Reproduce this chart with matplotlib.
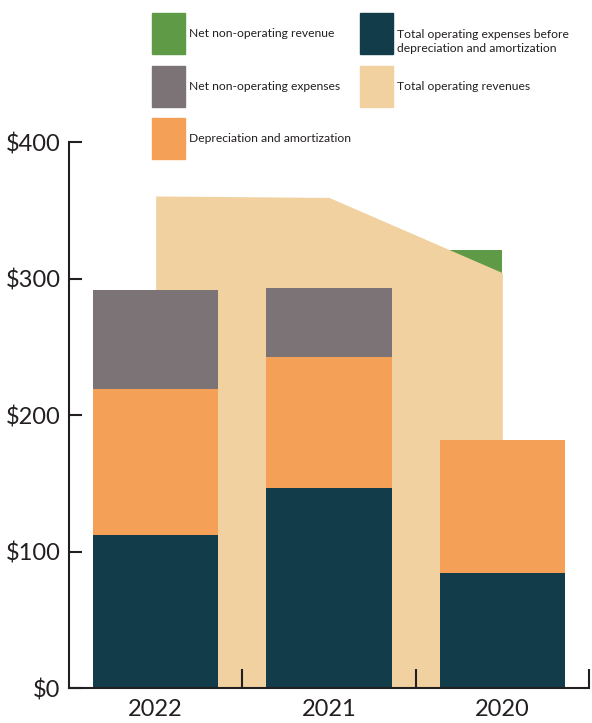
import matplotlib
matplotlib.use("Agg")
import matplotlib.pyplot as plt
import matplotlib.patches as mpatches
import numpy as np

# data (in $ millions)
years            = ["2022", "2021", "2020"]
opex_before_da   = [112.2, 147.1, 84.6]
depr_amort       = [107.3, 95.9, 97.1]
net_nonop_exp    = [72.5, 50.4, 0.0]
total_op_rev     = [360.7, 359.6, 304.5]
net_nonop_rev    = [0.0, 0.0, 16.6]
y_ticks          = [0, 100, 200, 300, 400]
y_labels         = ["$0", "$100", "$200", "$300", "$400"]

GREEN  = "#5f9b47"
TEAL   = "#123c4a"
GRAY   = "#7c7377"
BEIGE  = "#f0d19f"
ORANGE = "#f4a057"
TEXT   = "#231f20"

plt.rcParams["font.family"] = ["Lato", "DejaVu Sans"]

W, H = 592, 723
fig = plt.figure(figsize=(W / 100, H / 100), dpi=100)
ax = fig.add_axes([69 / W, 1 - 688.3 / H, 520 / W, 546 / H])

x = np.arange(len(years))
w = 0.7225
rev = np.array(total_op_rev)
nrev = np.array(net_nonop_rev)

# net non-operating revenue sits on top of revenues (behind the area)
for xi, r, n in zip(x, rev, nrev):
    if n > 0:
        ax.bar(xi, r + n, width=-0.5, align="edge", color=GREEN, zorder=1)

# total operating revenues as an area behind the bars
ax.fill_between(x, 0, rev, color=BEIGE, linewidth=0, zorder=2)

b0 = np.zeros(len(years))
b1 = b0 + np.array(opex_before_da)
b2 = b1 + np.array(depr_amort)
ax.bar(x, opex_before_da, w, bottom=b0, color=TEAL, zorder=3)
ax.bar(x, depr_amort, w, bottom=b1, color=ORANGE, zorder=3)
ax.bar(x, net_nonop_exp, w, bottom=b2, color=GRAY, zorder=3)

ax.set_xlim(-0.5, len(years) - 0.5)
ax.set_ylim(0, 400)

for s in ["top", "right"]:
    ax.spines[s].set_visible(False)
for s in ["left", "bottom"]:
    ax.spines[s].set_linewidth(1.5)
    ax.spines[s].set_color(TEXT)
ax.spines["bottom"].set_zorder(4)

ax.set_yticks(y_ticks)
ax.set_yticklabels(y_labels)
ax.tick_params(axis="y", direction="in", length=9.5, width=1.5, pad=6,
               labelsize=17, colors=TEXT)

# year labels at centres, tick marks at the category boundaries
ax.set_xticks(x)
ax.set_xticklabels(years)
ax.set_xticks(x + 0.5, minor=True)
ax.tick_params(axis="x", which="major", length=0, pad=8, labelsize=17, colors=TEXT)
ax.tick_params(axis="x", which="minor", direction="in", length=14, width=1.5, colors=TEXT)
ax.set_axisbelow(False)

# legend, laid out by hand (pixel positions from the top-left)
legend_items = [
    (GREEN,  "Net non-operating revenue",       152, 13),
    (GRAY,   "Net non-operating expenses",      152, 66),
    (ORANGE, "Depreciation and amortization",   152, 118),
    (TEAL,   "Total operating expenses before\ndepreciation and amortization", 360, 13),
    (BEIGE,  "Total operating revenues",        360, 66),
]
sq_w, sq_h = 33, 41
for col, label, px, py in legend_items:
    fig.add_artist(mpatches.Rectangle((px / W, 1 - (py + sq_h) / H), sq_w / W, sq_h / H,
                                      transform=fig.transFigure, color=col))
    ty = py + sq_h / 2
    if "\n" in label:
        ty += 8
    fig.text((px + sq_w + 4) / W, 1 - ty / H, label, fontsize=8.7, color=TEXT,
             ha="left", va="center", linespacing=1.4)

fig.savefig("out.png", dpi=100)
